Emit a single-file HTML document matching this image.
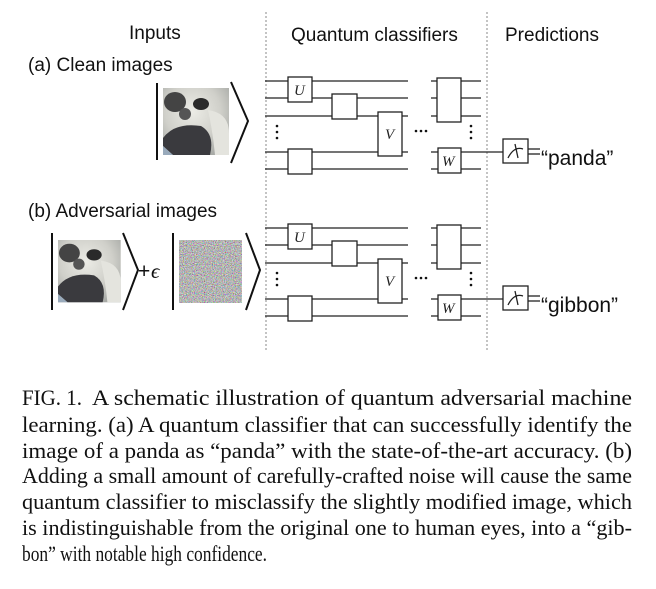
<!DOCTYPE html>
<html><head><meta charset="utf-8"><style>
html,body{margin:0;padding:0;background:#fff;width:656px;height:589px;overflow:hidden}
svg{display:block}
.s{font-family:"Liberation Sans",sans-serif;fill:#111}
.c{font-family:"Liberation Serif",serif;font-size:22px;fill:#111}
.g{font-family:"Liberation Serif",serif;font-style:italic;font-size:15px;fill:#222}
</style></head><body>
<svg width="656" height="589" viewBox="0 0 656 589" xmlns="http://www.w3.org/2000/svg">
<defs>
<filter id="nz" x="0" y="0" width="100%" height="100%">
<feTurbulence type="fractalNoise" baseFrequency="0.9" numOctaves="2" seed="3"/>
<feColorMatrix type="matrix" values="1.6 0 0 0 -0.3  0 1.6 0 0 -0.3  0 0 1.6 0 -0.3  0 0 0 0 1"/>
</filter>
<radialGradient id="pw" cx="0.45" cy="0.35" r="0.7"><stop offset="0" stop-color="#ececE6"/><stop offset="0.6" stop-color="#d0d0ca"/><stop offset="1" stop-color="#a8aaa6"/></radialGradient>
<g id="panda">
<rect x="0" y="0" width="66" height="67" fill="url(#pw)"/>
<ellipse cx="12" cy="14" rx="11" ry="10" fill="#444"/>
<ellipse cx="38" cy="16" rx="8" ry="6" fill="#2a2a2a"/>
<ellipse cx="22" cy="26" rx="6" ry="6" fill="#555"/>
<path d="M0 50 Q12 34 38 38 Q52 46 47 67 L10 67 L0 58Z" fill="#3a3a3e"/>
<path d="M45 22 Q66 25 66 45 L66 67 L52 67 Q50 45 45 22Z" fill="#e4e4de"/>
<path d="M0 58 L10 67 L0 67Z" fill="#9ab"/>
</g>
<g id="circ" stroke="#222" stroke-width="1.3" fill="#fff">
<line x1="265" y1="81" x2="408" y2="81"/>
<line x1="265" y1="98" x2="408" y2="98"/>
<line x1="265" y1="116" x2="408" y2="116"/>
<line x1="265" y1="152" x2="408" y2="152"/>
<line x1="265" y1="169" x2="408" y2="169"/>
<line x1="431" y1="81" x2="481" y2="81"/>
<line x1="431" y1="98" x2="481" y2="98"/>
<line x1="431" y1="116" x2="481" y2="116"/>
<line x1="431" y1="169" x2="481" y2="169"/>
<line x1="431" y1="152" x2="503" y2="152"/>
<rect x="288" y="77" width="24" height="25"/>
<rect x="332" y="94" width="25" height="25"/>
<rect x="378" y="112" width="24" height="44"/>
<rect x="288" y="149" width="24" height="25"/>
<rect x="437" y="78" width="24" height="44"/>
<rect x="438" y="148" width="23" height="25"/>
<rect x="503" y="139" width="25" height="24"/>
<path d="M508 158 Q514 146 523 149" fill="none"/>
<line x1="515" y1="144" x2="518" y2="158"/>
<line x1="528" y1="149" x2="540" y2="149"/>
<line x1="528" y1="154" x2="540" y2="154"/>
<g stroke="none" fill="#111">
<circle cx="277" cy="126" r="1.3"/><circle cx="277" cy="132" r="1.3"/><circle cx="277" cy="138" r="1.3"/>
<circle cx="471" cy="126" r="1.3"/><circle cx="471" cy="132" r="1.3"/><circle cx="471" cy="138" r="1.3"/>
<circle cx="416" cy="131" r="1.3"/><circle cx="421" cy="131" r="1.3"/><circle cx="426" cy="131" r="1.3"/>
</g>
<text class="g" x="294" y="95" stroke="none">U</text>
<text class="g" x="385" y="139" stroke="none">V</text>
<text class="g" x="442" y="166" stroke="none">W</text>
</g>
</defs>

<line x1="266" y1="12" x2="266" y2="352" stroke="#888" stroke-width="1" stroke-dasharray="2,2"/>
<line x1="487" y1="12" x2="487" y2="352" stroke="#888" stroke-width="1" stroke-dasharray="2,2"/>

<text class="s" x="129" y="39" font-size="19">Inputs</text>
<text class="s" x="291" y="41" font-size="19">Quantum classifiers</text>
<text class="s" x="505" y="41" font-size="19">Predictions</text>
<text class="s" x="28" y="71" font-size="19">(a) Clean images</text>
<text class="s" x="28" y="217" font-size="19">(b) Adversarial images</text>

<line x1="157" y1="83" x2="157" y2="160" stroke="#111" stroke-width="2"/>
<use href="#panda" transform="translate(163,88)"/>
<polyline points="231,82 248,121 231,163" fill="none" stroke="#111" stroke-width="2"/>

<line x1="52" y1="233" x2="52" y2="310" stroke="#111" stroke-width="2"/>
<use href="#panda" transform="translate(58,240) scale(0.95,0.93)"/>
<polyline points="123,233 138,270 123,310" fill="none" stroke="#111" stroke-width="2"/>
<text class="s" x="138" y="278" font-size="21">+</text>
<text x="151" y="278" font-family="Liberation Serif,serif" font-style="italic" font-size="21" fill="#111">ϵ</text>
<line x1="173" y1="233" x2="173" y2="310" stroke="#111" stroke-width="2"/>
<rect x="179" y="240" width="63" height="63" fill="#999"/>
<rect x="179" y="240" width="63" height="63" filter="url(#nz)" opacity="0.85"/>
<polyline points="246,233 260,270 246,310" fill="none" stroke="#111" stroke-width="2"/>

<use href="#circ"/>
<use href="#circ" transform="translate(0,147)"/>

<text class="s" x="541" y="165" font-size="21">“panda”</text>
<text class="s" x="541" y="312" font-size="21">“gibbon”</text>

<text class="c" x="22" y="405" textLength="60" lengthAdjust="spacingAndGlyphs">FIG. 1.</text>
<text class="c" x="92" y="405" textLength="540" lengthAdjust="spacingAndGlyphs">A schematic illustration of quantum adversarial machine</text>
<text class="c" x="22" y="432" textLength="610" lengthAdjust="spacingAndGlyphs">learning.  (a) A quantum classifier that can successfully identify the</text>
<text class="c" x="22" y="458" textLength="610" lengthAdjust="spacingAndGlyphs">image of a panda as “panda” with the state-of-the-art accuracy.  (b)</text>
<text class="c" x="22" y="483" textLength="610" lengthAdjust="spacingAndGlyphs">Adding a small amount of carefully-crafted noise will cause the same</text>
<text class="c" x="22" y="509" textLength="610" lengthAdjust="spacingAndGlyphs">quantum classifier to misclassify the slightly modified image, which</text>
<text class="c" x="22" y="535" textLength="610" lengthAdjust="spacingAndGlyphs">is indistinguishable from the original one to human eyes, into a “gib-</text>
<text class="c" x="22" y="561" textLength="245" lengthAdjust="spacingAndGlyphs">bon” with notable high confidence.</text>
</svg>
</body></html>
